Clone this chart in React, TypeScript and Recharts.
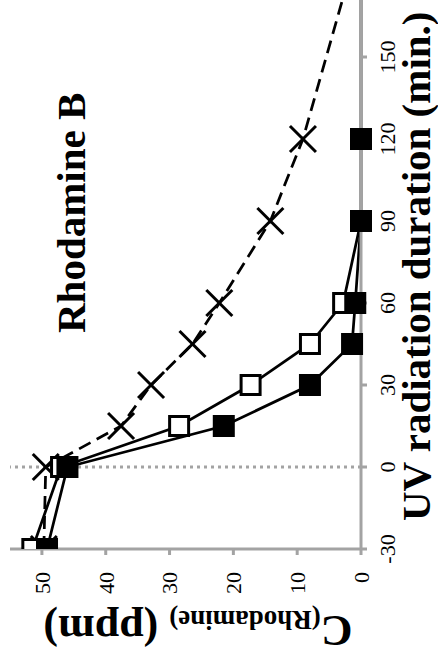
import { CartesianGrid, Customized, Label, Line, LineChart, ReferenceLine, XAxis, YAxis } from "recharts";

// UV exposure time (min.) and Rhodamine B concentration (ppm) per sample
const TIMES = [-30, 0, 15, 30, 45, 60, 90, 120, 180];
const FILLED = [49.2, 46, 21.5, 8, 1.4, 0.9, 0, 0, 0];
const OPEN: (number | null)[] = [51.5, 47, 28.5, 17.3, 8, 2.8, 0, null, null];
const CROSS = [49.7, 49.4, 37.6, 32.9, 26.4, 22.2, 14.2, 9.1, 1.8];

const X_TICKS = [-30, 0, 30, 60, 90, 120, 150];
const Y_TICKS = [0, 10, 20, 30, 40, 50];

const data = TIMES.map((t, i) => ({
  t,
  filled: FILLED[i],
  open: OPEN[i],
  cross: CROSS[i],
}));

const SERIF = "Liberation Serif";
const AXIS_GRAY = "#a3a3a3";
const CHART_W = 720;
const CHART_H = 438;

function XTick(props: any) {
  const { x, y, payload } = props;
  return (
    <text x={x} y={y} dy="0.71em" textAnchor="middle" fontFamily={SERIF} fontSize={22} fill="#000">
      {payload.value}
    </text>
  );
}

function YTick(props: any) {
  const { x, y, payload } = props;
  return (
    <text x={x} y={y} dy="0.355em" textAnchor="end" fontFamily={SERIF} fontSize={22} fill="#000">
      {payload.value}
    </text>
  );
}

function FilledSquare(props: any) {
  const { cx, cy, index } = props;
  if (cx == null || cy == null) return <g key={`f${index}`} />;
  return <rect key={`f${index}`} x={cx - 11} y={cy - 11} width={22} height={22} fill="#000" />;
}

function OpenSquare(props: any) {
  const { cx, cy, index, value } = props;
  if (cx == null || cy == null || value == null) return <g key={`o${index}`} />;
  return (
    <rect
      key={`o${index}`}
      x={cx - 9.5}
      y={cy - 9.5}
      width={19}
      height={19}
      fill="#fff"
      stroke="#000"
      strokeWidth={3}
    />
  );
}

function Cross(props: any) {
  const { cx, cy, index } = props;
  if (cx == null || cy == null) return <g key={`c${index}`} />;
  const r = 13;
  return (
    <g key={`c${index}`} stroke="#000" strokeWidth={3}>
      <line x1={cx - r} y1={cy - r} x2={cx + r} y2={cy + r} />
      <line x1={cx - r} y1={cy + r} x2={cx + r} y2={cy - r} />
    </g>
  );
}

function XTitle() {
  return (
    <text x={133} y={430} textAnchor="start" fontFamily={SERIF} fontWeight="bold" fontSize={41} fill="#000">
      UV radiation duration (min.)
    </text>
  );
}

function YTitle() {
  const x = 38;
  const y = 198;
  return (
    <text
      x={x}
      y={y}
      transform={`rotate(-90, ${x}, ${y})`}
      textAnchor="middle"
      fontFamily={SERIF}
      fontWeight="bold"
      fontSize={44}
      fill="#000"
    >
      <tspan>C</tspan>
      <tspan fontSize={27} dy={5}>
        (Rhodamine)
      </tspan>
      <tspan dy={-5}> (ppm)</tspan>
    </text>
  );
}

function ChartTitle() {
  return (
    <text x={321} y={85} fontFamily={SERIF} fontWeight="bold" fontSize={41} fill="#000">
      Rhodamine B
    </text>
  );
}

export default function App() {
  return (
    <div
      style={{
        position: "fixed",
        top: 0,
        left: 0,
        width: 438,
        height: 654,
        overflow: "hidden",
        background: "#fff",
        fontFamily: SERIF,
      }}
    >
      <div
        style={{
          position: "absolute",
          left: 0,
          top: 0,
          width: CHART_W,
          height: CHART_H,
          transformOrigin: "0 0",
          transform: "translate(0px, 654px) rotate(-90deg)",
        }}
      >
        <LineChart
          width={CHART_W}
          height={CHART_H}
          data={data}
          margin={{ top: 10, right: 41, bottom: 0, left: 0 }}
        >
          <CartesianGrid stroke="none" />
          <XAxis
            dataKey="t"
            type="number"
            domain={[-30, 180]}
            ticks={X_TICKS}
            height={77}
            stroke={AXIS_GRAY}
            strokeWidth={3}
            tickSize={6}
            tickMargin={12}
            tick={<XTick />}
            allowDataOverflow
          >
            <Label content={XTitle} />
          </XAxis>
          <YAxis
            type="number"
            domain={[0, 55]}
            ticks={Y_TICKS}
            width={105}
            stroke={AXIS_GRAY}
            strokeWidth={3}
            tickSize={6}
            tickMargin={17}
            tick={<YTick />}
          >
            <Label content={YTitle} />
          </YAxis>
          <ReferenceLine x={0} stroke={AXIS_GRAY} strokeWidth={3} strokeDasharray="3 4" />
          <Line
            dataKey="cross"
            stroke="#000"
            strokeWidth={2.75}
            strokeDasharray="13 7"
            dot={Cross}
            activeDot={false}
            isAnimationActive={false}
          />
          <Line
            dataKey="open"
            stroke="#000"
            strokeWidth={2.75}
            dot={OpenSquare}
            activeDot={false}
            isAnimationActive={false}
          />
          <Line
            dataKey="filled"
            stroke="#000"
            strokeWidth={2.75}
            dot={FilledSquare}
            activeDot={false}
            isAnimationActive={false}
          />
          <Customized component={ChartTitle} />
        </LineChart>
      </div>
    </div>
  );
}
